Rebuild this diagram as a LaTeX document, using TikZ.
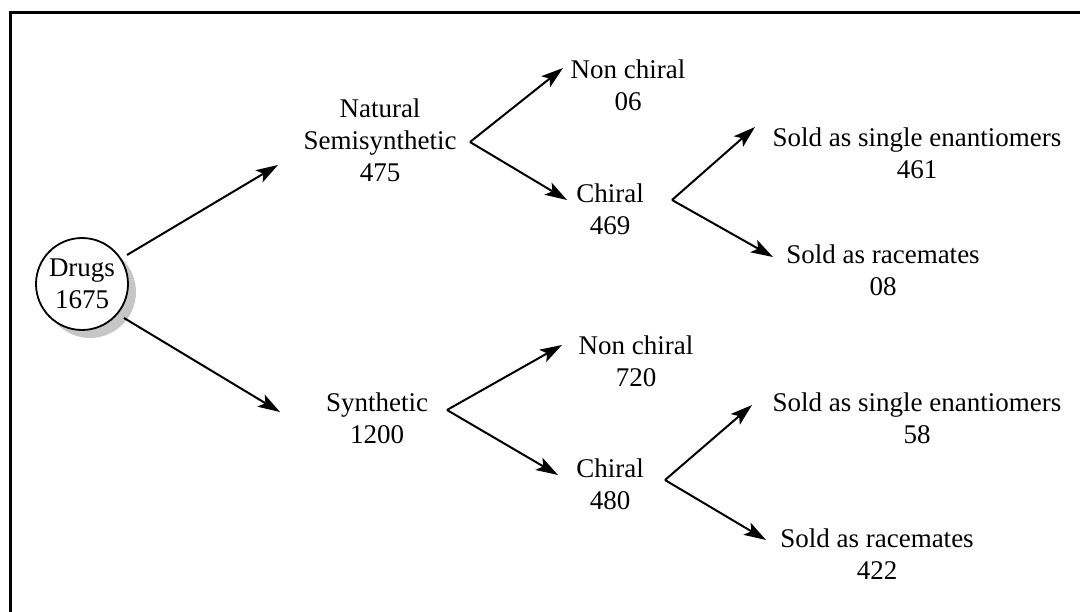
\documentclass[tikz,border=0pt]{standalone}
\usepackage{fontspec}
\setmainfont{Liberation Serif}
\usetikzlibrary{arrows.meta}
\begin{document}
\begin{tikzpicture}[x=1pt,y=-1pt,
  lbl/.style={align=center,inner sep=0pt,font=\fontsize{27}{32}\selectfont},
  arr/.style={line width=2pt,-{Stealth[length=22pt,width=14pt,inset=5pt]}}]
\useasboundingbox (0,0) rectangle (1080,612);
\draw[line width=3pt] (10,612) -- (10,13) -- (1080,13);
% root
\fill[gray!45] (90,292) circle (46);
\node[circle,draw,line width=1.8pt,fill=white,minimum size=92pt,inner sep=0pt,lbl] (drugs) at (82,284) {Drugs\\1675};
\node[lbl] (nat) at (380,140) {Natural\\Semisynthetic\\475};
\node[lbl] (syn) at (377,418) {Synthetic\\1200};
\node[lbl] (nc1) at (628,85) {Non chiral\\06};
\node[lbl] (ch1) at (610,209) {Chiral\\469};
\node[lbl] (se1) at (917,153) {Sold as single enantiomers\\461};
\node[lbl] (ra1) at (883,270) {Sold as racemates\\08};
\node[lbl] (nc2) at (636,361) {Non chiral\\720};
\node[lbl] (ch2) at (610,484) {Chiral\\480};
\node[lbl] (se2) at (917,418) {Sold as single enantiomers\\58};
\node[lbl] (ra2) at (877,554) {Sold as racemates\\422};
% vertices and arrow ends
\coordinate (v1) at (470,142);
\coordinate (v2) at (672,200);
\coordinate (v3) at (447,410);
\coordinate (v4) at (665,480);
\coordinate (d1) at (127,255);
\coordinate (d2) at (124,318);
\coordinate (t1) at (278,165);
\coordinate (t2) at (280,412);
\coordinate (e1) at (563,68);
\coordinate (e2) at (567,200);
\coordinate (e3) at (755,127);
\coordinate (e4) at (773,257);
\coordinate (e5) at (562,345);
\coordinate (e6) at (558,475);
\coordinate (e7) at (752,405);
\coordinate (e8) at (766,540);
\draw[arr] (d1) -- (t1);
\draw[arr] (d2) -- (t2);
\draw[arr] (v1) -- (e1);
\draw[arr] (v1) -- (e2);
\draw[arr] (v2) -- (e3);
\draw[arr] (v2) -- (e4);
\draw[arr] (v3) -- (e5);
\draw[arr] (v3) -- (e6);
\draw[arr] (v4) -- (e7);
\draw[arr] (v4) -- (e8);
\end{tikzpicture}
\end{document}
